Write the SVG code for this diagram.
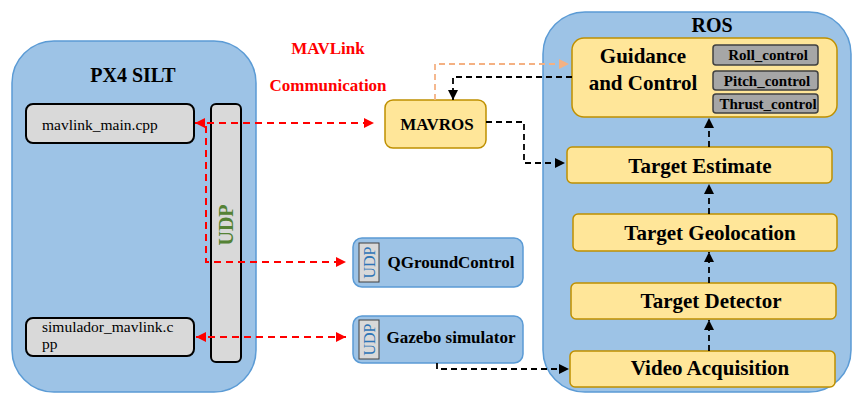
<svg xmlns="http://www.w3.org/2000/svg" width="853" height="396" viewBox="0 0 853 396">
<style>
.cont{fill:#9DC3E6;stroke:#5B9BD5;stroke-width:1.5}
.grey{fill:#D9D9D9;stroke:#000;stroke-width:2}
.yel{fill:#FFE699;stroke:#BF9000;stroke-width:1.5}
.blue{fill:#9DC3E6;stroke:#5B9BD5;stroke-width:1.5}
.ctl{fill:#A6A6A6;stroke:#404040;stroke-width:1.5}
.udps{fill:#D9D9D9;stroke:#404040;stroke-width:1}
.title{font-family:'Liberation Serif',serif;font-size:20px;font-weight:bold}
.big{font-family:'Liberation Serif',serif;font-size:21px;font-weight:bold}
.mid{font-family:'Liberation Serif',serif;font-size:17px;font-weight:bold}
.file{font-family:'Liberation Serif',serif;font-size:15.5px}
.ctxt{font-family:'Liberation Serif',serif;font-size:15px;font-weight:bold}
.red{font-family:'Liberation Serif',serif;fill:#FF0000;font-size:17px;font-weight:bold}
.udpg{font-family:'Liberation Serif',serif;fill:#548235;font-size:20px;font-weight:bold}
.udpb{font-family:'Liberation Serif',serif;fill:#2E75B6;font-size:16px}
.rl{fill:none;stroke:#FF0000;stroke-width:2;stroke-dasharray:7,5}
.bl{fill:none;stroke:#000;stroke-width:1.8;stroke-dasharray:6,4}
.ol{fill:none;stroke:#F4B183;stroke-width:1.8;stroke-dasharray:6,4}
</style>
<defs>
<marker id="ar" viewBox="0 0 10 10" refX="10" refY="5" markerWidth="10" markerHeight="10" markerUnits="userSpaceOnUse" orient="auto-start-reverse"><path d="M0,0 L10,5 L0,10 z" fill="#FF0000"/></marker>
<marker id="ab" viewBox="0 0 10 10" refX="10" refY="5" markerWidth="10" markerHeight="10" markerUnits="userSpaceOnUse" orient="auto-start-reverse"><path d="M0,0 L10,5 L0,10 z" fill="#000"/></marker>
<marker id="ao" viewBox="0 0 10 10" refX="10" refY="5" markerWidth="10" markerHeight="10" markerUnits="userSpaceOnUse" orient="auto-start-reverse"><path d="M0,0 L10,5 L0,10 z" fill="#F4B183"/></marker>
</defs>

<g id="px4">
<rect class="cont" x="12" y="41" width="244" height="351" rx="42"/>
<text class="title" x="133" y="82" text-anchor="middle">PX4 SILT</text>
</g>
<g id="ros">
<rect class="cont" x="543" y="12" width="308" height="380" rx="42"/>
<text class="title" x="712" y="32" text-anchor="middle">ROS</text>
</g>

<g id="mavlink_main">
<rect class="grey" x="26" y="104" width="168" height="39" rx="7"/>
<text class="file" x="42" y="130">mavlink_main.cpp</text>
</g>
<g id="simulador">
<rect class="grey" x="26" y="318" width="168" height="38" rx="7"/>
<text class="file" x="42" y="332">simulador_mavlink.c</text>
<text class="file" x="42" y="349">pp</text>
</g>
<g id="udp_bar">
<rect class="grey" x="211" y="104" width="30" height="258" rx="5"/>
<text class="udpg" transform="translate(233,225) rotate(-90)" text-anchor="middle">UDP</text>
</g>

<g id="mavlink_label">
<text class="red" x="328" y="54" text-anchor="middle">MAVLink</text>
<text class="red" x="328" y="91" text-anchor="middle">Communication</text>
</g>

<g id="mavros">
<rect class="yel" x="385" y="100" width="101" height="48" rx="8"/>
<text class="mid" x="437" y="130" text-anchor="middle">MAVROS</text>
</g>

<g id="qgc">
<rect class="blue" x="353" y="238" width="170" height="49" rx="9"/>
<rect class="udps" x="359" y="243" width="20" height="39"/>
<text class="udpb" transform="translate(375,262.5) rotate(-90)" text-anchor="middle">UDP</text>
<text class="mid" x="451" y="268" text-anchor="middle">QGroundControl</text>
</g>
<g id="gazebo">
<rect class="blue" x="353" y="316" width="170" height="47" rx="9"/>
<rect class="udps" x="359" y="320" width="20" height="39"/>
<text class="udpb" transform="translate(375,339.5) rotate(-90)" text-anchor="middle">UDP</text>
<text class="mid" x="451" y="343" text-anchor="middle">Gazebo simulator</text>
</g>

<g id="guidance">
<rect class="yel" x="572" y="38" width="265" height="79" rx="12"/>
<text class="big" x="643" y="63" text-anchor="middle">Guidance</text>
<text class="big" x="643" y="90" text-anchor="middle">and Control</text>
</g>
<g id="roll">
<rect class="ctl" x="713" y="45" width="105" height="20" rx="3"/>
<text class="ctxt" x="768" y="60" text-anchor="middle">Roll_control</text>
</g>
<g id="pitch">
<rect class="ctl" x="713" y="71" width="105" height="19" rx="3"/>
<text class="ctxt" x="767" y="86" text-anchor="middle">Pitch_control</text>
</g>
<g id="thrust">
<rect class="ctl" x="713" y="94" width="105" height="19" rx="3"/>
<text class="ctxt" x="768" y="109" text-anchor="middle">Thrust_control</text>
</g>

<g id="target_estimate">
<rect class="yel" x="567" y="147" width="265" height="36" rx="5"/>
<text class="big" x="700" y="173" text-anchor="middle">Target Estimate</text>
</g>
<g id="target_geolocation">
<rect class="yel" x="573" y="214" width="264" height="37" rx="5"/>
<text class="big" x="710" y="240" text-anchor="middle">Target Geolocation</text>
</g>
<g id="target_detector">
<rect class="yel" x="571" y="283" width="265" height="36" rx="5"/>
<text class="big" x="711" y="308" text-anchor="middle">Target Detector</text>
</g>
<g id="video_acquisition">
<rect class="yel" x="570" y="351" width="265" height="36" rx="5"/>
<text class="big" x="710" y="375" text-anchor="middle">Video Acquisition</text>
</g>

<g id="connectors">
<path class="rl" d="M195,123 H374" marker-start="url(#ar)" marker-end="url(#ar)"/>
<path class="rl" d="M206,126 V262 H346" marker-end="url(#ar)"/>
<path class="rl" d="M196,337 H346" marker-start="url(#ar)" marker-end="url(#ar)"/>
<path class="bl" d="M486,122 H524 V163 H565" marker-end="url(#ab)"/>
<path class="bl" d="M572,77 H453 V100" marker-end="url(#ab)"/>
<path class="ol" d="M435,100 V64 H569" marker-end="url(#ao)"/>
<path class="bl" d="M437,363 V369 H569" marker-end="url(#ab)"/>
<path class="bl" d="M709,351 V320" marker-end="url(#ab)"/>
<path class="bl" d="M709,283 V252" marker-end="url(#ab)"/>
<path class="bl" d="M709,214 V184" marker-end="url(#ab)"/>
<path class="bl" d="M709,147 V118" marker-end="url(#ab)"/>
</g>
</svg>
